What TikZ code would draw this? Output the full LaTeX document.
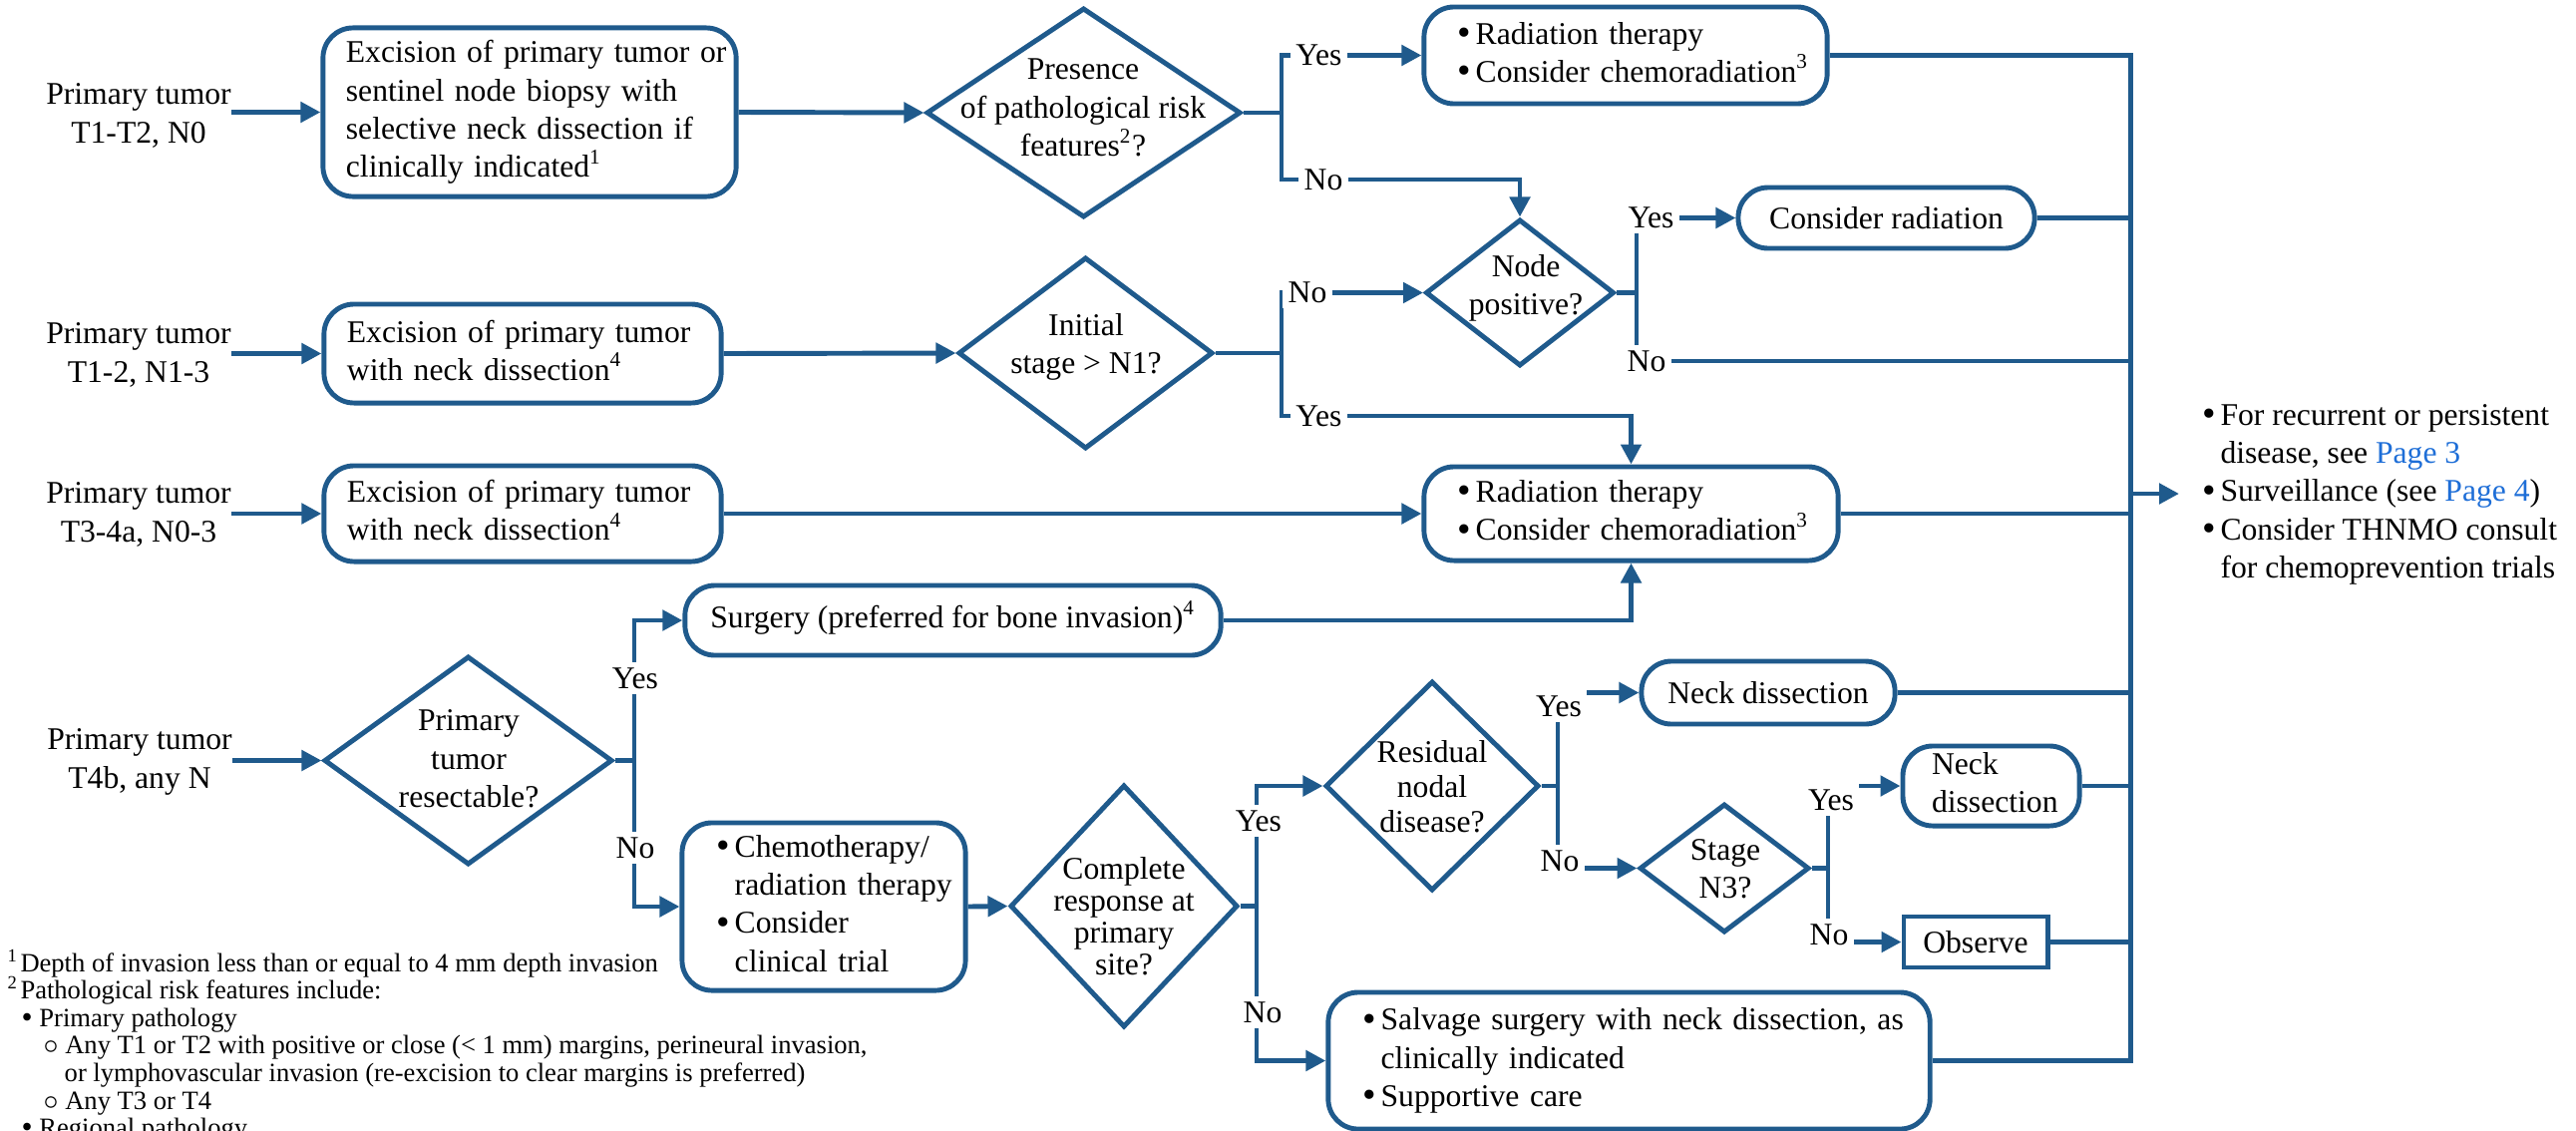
\documentclass[tikz,border=0pt]{standalone}
\usepackage{fontspec}
\setmainfont{Liberation Serif}
\usetikzlibrary{shapes.geometric,arrows.meta}
\definecolor{nccn}{RGB}{31,90,140}
\definecolor{linkc}{RGB}{30,110,215}
\newcommand\mainf{\fontsize{9pt}{10.9pt}\selectfont}
\newcommand\fnf{\fontsize{7.55pt}{7.85pt}\selectfont}
\newcommand\mysup[1]{\smash{\textsuperscript{#1}}}
\newcommand\bul{\raisebox{-0.4pt}{\fontsize{11pt}{0pt}\selectfont\textbullet}}
\newcommand\fbul{\raisebox{-0.3pt}{\fontsize{9pt}{0pt}\selectfont\textbullet}}
\begin{document}
\begin{tikzpicture}[x=0.01cm,y=-0.01cm,
  every node/.style={inner sep=0pt},
  rbox/.style={draw=nccn, line width=1.4pt, rounded corners=0.3cm, font=\mainf, fill=white},
  sbox/.style={draw=nccn, line width=1.4pt, font=\mainf, fill=white},
  dia/.style={diamond, draw=nccn, line width=1.4pt},
  dtext/.style={font=\mainf, align=center},
  lab/.style={fill=white, inner sep=1.5pt, font=\mainf},
  conn/.style={draw=nccn, line width=1.4pt},
  arr/.style={conn, -{Triangle[length=0.2cm,width=0.2cm]}},
]
\useasboundingbox (0,0) rectangle (2583,1133);
\clip (0,0) rectangle (2583,1133);

% start labels
\node[font=\mainf, align=center] (s1) at (139,116) {Primary tumor\\T1-T2, N0};
\node[font=\mainf, align=center] (s2) at (139,356) {Primary tumor\\T1-2, N1-3};
\node[font=\mainf, align=center] (s3) at (139,516) {Primary tumor\\T3-4a, N0-3};
\node[font=\mainf, align=center] (s4) at (140,764) {Primary tumor\\T4b, any N};

% boxes
\node[rbox, minimum width=4.14cm, minimum height=1.69cm, text width=3.68cm, align=left] (b1) at (531,112.5)
 {\begin{tabular}{@{}l@{}}Excision of primary tumor or\\sentinel node biopsy with\\selective neck dissection if\\clinically indicated\mysup{1}\end{tabular}};
\node[rbox, minimum width=3.98cm, minimum height=0.99cm, text width=3.52cm, align=left] (b2) at (524,354.5)
 {\begin{tabular}{@{}l@{}}Excision of primary tumor\\with neck dissection\mysup{4}\end{tabular}};
\node[rbox, minimum width=3.98cm, minimum height=0.96cm, text width=3.52cm, align=left] (b3) at (524,515)
 {\begin{tabular}{@{}l@{}}Excision of primary tumor\\with neck dissection\mysup{4}\end{tabular}};
\node[rbox, minimum width=4.04cm, minimum height=0.97cm, text width=3.36cm, align=left] (r1) at (1630,55.5)
 {\begin{tabular}{@{}l@{\hspace{1.2pt}}l@{}}\bul & Radiation therapy\\ \bul & Consider chemoradiation\mysup{3}\end{tabular}};
\node[rbox, minimum width=2.97cm, minimum height=0.61cm, align=center] (cr) at (1891.5,218.5) {Consider radiation};
\node[rbox, minimum width=4.15cm, minimum height=0.94cm, text width=3.47cm, align=left] (r2) at (1635.5,515)
 {\begin{tabular}{@{}l@{\hspace{1.2pt}}l@{}}\bul & Radiation therapy\\ \bul & Consider chemoradiation\mysup{3}\end{tabular}};
\node[rbox, minimum width=5.37cm, minimum height=0.70cm, align=center] (sg) at (955.5,622) {Surgery (preferred for bone invasion)\mysup{4}};
\node[rbox, minimum width=2.84cm, minimum height=1.68cm, text width=2.14cm, align=left] (ch) at (826,909)
 {\begin{tabular}{@{}l@{\hspace{1.2pt}}l@{}}\bul & Chemotherapy/\\ & radiation therapy\\ \bul & Consider\\ & clinical trial\end{tabular}};
\node[rbox, minimum width=2.54cm, minimum height=0.63cm, align=center] (nd1) at (1773,694.5) {Neck dissection};
\node[rbox, minimum width=1.77cm, minimum height=0.80cm, text width=1.19cm, align=left] (nd2) at (1996.5,788)
 {\begin{tabular}{@{}l@{}}Neck\\dissection\end{tabular}};
\node[sbox, minimum width=1.44cm, minimum height=0.51cm, align=center] (obs) at (1981,944.5) {Observe};
\node[rbox, minimum width=6.03cm, minimum height=1.37cm, text width=5.33cm, align=left] (sv) at (1633.5,1063.5)
 {\begin{tabular}{@{}l@{\hspace{1.2pt}}l@{}}\bul & Salvage surgery with neck dissection, as\\ & clinically indicated\\ \bul & Supportive care\end{tabular}};

% diamonds
\node[dia, minimum width=3.15cm, minimum height=2.10cm] (d1) at (1086.5,113) {};
\node[dtext] (d1t) at (1086,108) {Presence\\of pathological risk\\features\mysup{2}?};
\node[dia, minimum width=1.89cm, minimum height=1.47cm] (np) at (1524,293.5) {};
\node[dtext] (npt) at (1530,289) {Node\\positive?};
\node[dia, minimum width=2.55cm, minimum height=1.92cm] (d2) at (1088.5,354) {};
\node[dtext] (d2t) at (1089,348) {Initial\\stage > N1?};
\node[dia, minimum width=2.89cm, minimum height=2.09cm] (d3) at (469.5,762.5) {};
\node[dtext] (d3t) at (470,761) {Primary\\tumor\\resectable?};
\node[dia, minimum width=2.28cm, minimum height=2.43cm] (d4) at (1127,908.5) {};
\node[dtext, font={\fontsize{9pt}{9.1pt}\selectfont}] (d4t) at (1127,919) {Complete\\response at\\primary\\site?};
\node[dia, minimum width=2.14cm, minimum height=2.10cm] (d5) at (1436,788) {};
\node[dtext, font={\fontsize{9pt}{9.96pt}\selectfont}] (d5t) at (1436,789) {Residual\\nodal\\disease?};
\node[dia, minimum width=1.70cm, minimum height=1.29cm] (d6) at (1729,870.5) {};
\node[dtext] (d6t) at (1730,871) {Stage\\N3?};

% output text
\node[anchor=west, font=\mainf] (out) at (2208,495)
 {\begin{tabular}{@{}l@{\hspace{1.2pt}}l@{}}\bul & For recurrent or persistent\\ & disease, see \textcolor{linkc}{Page 3}\\ \bul & Surveillance (see \textcolor{linkc}{Page 4})\\ \bul & Consider THNMO consult\\ & for chemoprevention trials\end{tabular}};

% footnotes
\node[anchor=base west, font=\fnf] (fn) at (7,974)
 {\begin{tabular}[t]{@{}l@{}}\mysup{1}\hspace{0.5pt}Depth of invasion less than or equal to 4 mm depth invasion\\
 \mysup{2}\hspace{0.5pt}Pathological risk features include:\\
 \hspace*{0.14cm}\fbul\ Primary pathology\\
 \hspace*{0.36cm}$\circ$ Any T1 or T2 with positive or close (< 1 mm) margins, perineural invasion,\\
 \hspace*{0.57cm}or lymphovascular invasion (re-excision to clear margins is preferred)\\
 \hspace*{0.36cm}$\circ$ Any T3 or T4\\
 \hspace*{0.14cm}\fbul\ Regional pathology\end{tabular}};

% junction coordinates
\coordinate (j1) at (1285,113);
\coordinate (n1) at (1524,180);
\coordinate (j2) at (1285,354);
\coordinate (c2) at (1635.5,417);
\coordinate (j3) at (1641,293.5);
\coordinate (mno) at (2136,362);
\coordinate (j4) at (636,762.5);
\coordinate (j5) at (1260,908.5);
\coordinate (j6) at (1562,788);
\coordinate (j7) at (1833,870.5);
\coordinate (mt) at (2136,55.5);
\coordinate (mbot) at (2136,1063.5);
\coordinate (mo) at (2136,495);

% entry arrows
\draw[arr] (s1.east |- b1.west) -- (b1.west);
\draw[arr] (s2.east |- b2.west) -- (b2.west);
\draw[arr] (s3.east |- b3.west) -- (b3.west);
\draw[arr] (s4.east |- d3.west) -- (d3.west);
\draw[arr] (b1.east) -- (d1.west);
\draw[arr] (b2.east) -- (d2.west);
\draw[arr] (b3.east) -- (r2.west);

% decisions
\draw[conn] (d1.east) -- (j1);
\draw[arr] (j1) |- (r1.west);
\draw[arr] (j1) |- (n1) -- (np.north);
\draw[conn] (d2.east) -- (j2);
\draw[arr] (j2) |- (np.west);
\draw[arr] (j2) |- (c2) -- (r2.north);
\draw[conn] (np.east) -- (j3);
\draw[arr] (j3) |- (cr.west);
\draw[conn] (j3) |- (mno);
\draw[conn] (d3.east) -- (j4);
\draw[arr] (j4) |- (sg.west);
\draw[arr] (j4) |- (ch.west);
\draw[arr] (sg.east) -| (r2.south);
\draw[arr] (ch.east) -- (d4.west);
\draw[conn] (d4.east) -- (j5);
\draw[arr] (j5) |- (d5.west);
\draw[arr] (j5) |- (sv.west);
\draw[conn] (d5.east) -- (j6);
\draw[arr] (j6) |- (nd1.west);
\draw[arr] (j6) |- (d6.west);
\draw[conn] (d6.east) -- (j7);
\draw[arr] (j7) |- (nd2.west);
\draw[arr] (j7) |- (obs.west);

% merge line
\draw[conn] (r1.east) -- (mt) -- (mbot) -- (sv.east);
\draw[conn] (cr.east) -- (cr.east -| mt);
\draw[conn] (r2.east) -- (r2.east -| mt);
\draw[conn] (nd1.east) -- (nd1.east -| mt);
\draw[conn] (nd2.east) -- (nd2.east -| mt);
\draw[conn] (obs.east) -- (obs.east -| mt);
\draw[arr, shorten >=0.23cm] (mo) -- (out.west);

% labels
\node[lab] (l1y) at (1322.5,55) {Yes};
\node[lab] (l1n) at (1327,180) {No};
\node[lab] (l2n) at (1311,293) {No};
\node[lab] (l2y) at (1322.5,417) {Yes};
\node[lab] (l3y) at (1655.5,218) {Yes};
\node[lab] (l3n) at (1651,362) {No};
\node[lab] (l4y) at (637,680) {Yes};
\node[lab] (l4n) at (637,850) {No};
\node[lab] (l5y) at (1262,823) {Yes};
\node[lab] (l5n) at (1266,1015) {No};
\node[lab] (l6y) at (1563,708) {Yes};
\node[lab] (l6n) at (1564,863) {No};
\node[lab] (l7y) at (1836,802) {Yes};
\node[lab] (l7n) at (1834,937) {No};
\end{tikzpicture}
\end{document}
